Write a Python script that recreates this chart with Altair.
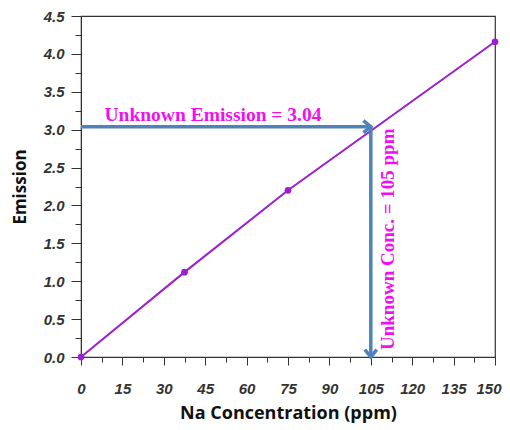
import altair as alt
import pandas as pd

conc = [0, 37.5, 75, 150]
emission = [0, 1.12, 2.20, 4.16]
unknown_emission = 3.04
unknown_conc = 105
x_major_step = 15
y_major_step = 0.5
x_tick_values = [7.5 * i for i in range(21)]
y_tick_values = [0.25 * i for i in range(19)]
label_h = "Unknown Emission = 3.04"
label_v = "Unknown Conc. = 105 ppm"

df = pd.DataFrame({"conc": conc, "emission": emission})

LINE = "#9b1fd0"
ARROW = "#4f81bd"
MAG = "#ee11ee"
AX = "#333333"

xs = alt.Scale(domain=[0, 150], nice=False, zero=False)
ys = alt.Scale(domain=[0, 4.5], nice=False, zero=False)

lab_font = dict(labelFont="Liberation Sans", labelFontSize=15, labelFontWeight="bold",
                labelFontStyle="italic", labelColor=AX)

x_axis = alt.Axis(
    values=x_tick_values, title="Na Concentration (ppm)",
    tickSize={"condition": {"test": f"datum.value % {x_major_step} === 0", "value": 8}, "value": 5},
    labelExpr=f"datum.value % {x_major_step} === 0 ? datum.label : ''",
    labelAlign={"condition": {"test": "datum.value === 150", "value": "right"}, "value": "center"},
    labelOffset={"condition": {"test": "datum.value === 150", "value": 6}, "value": 0},
    tickColor=AX, domainColor=AX, grid=False, labelPadding=16, titleFont="Open Sans",
    titleFontSize=18, titleFontWeight="bold", titleColor="#111111",
    titlePadding=8, format="d", labelFlush=False, labelOverlap=False, **lab_font)
y_axis = alt.Axis(
    values=y_tick_values, title="Emission",
    tickSize={"condition": {"test": f"datum.value % {y_major_step} === 0", "value": 10}, "value": 6},
    labelExpr=f"datum.value % {y_major_step} === 0 ? datum.label : ''",
    tickColor=AX, domainColor=AX, grid=False, labelPadding=7, titleFont="Open Sans",
    titleFontSize=17, titleFontWeight="bold", titleColor="#111111",
    titlePadding=14, format=".1f", labelFlush=False, labelOverlap=False, **lab_font)

X = alt.X("conc:Q", scale=xs, axis=x_axis)
Y = alt.Y("emission:Q", scale=ys, axis=y_axis)

line = alt.Chart(df).mark_line(color=LINE, strokeWidth=2).encode(x=X, y=Y)
pts = alt.Chart(df).mark_circle(color=LINE, size=45, opacity=1).encode(x=X, y=Y)

h_line = alt.Chart(pd.DataFrame({"conc": [0], "conc2": [unknown_conc], "emission": [unknown_emission]})).mark_rule(
    color=ARROW, strokeWidth=3.5).encode(x=X, x2="conc2:Q", y=Y)
v_line = alt.Chart(pd.DataFrame({"conc": [unknown_conc], "emission": [unknown_emission], "emission2": [0]})).mark_rule(
    color=ARROW, strokeWidth=3.5).encode(x=X, y=Y, y2="emission2:Q")

head_r = alt.Chart(pd.DataFrame({"conc": [unknown_conc], "emission": [unknown_emission]})).mark_point(
    shape="M-1,-0.8L0,0L-1,0.8", filled=False, stroke=ARROW, strokeWidth=3.5, size=220,
    opacity=1).encode(x=X, y=Y)
head_d = alt.Chart(pd.DataFrame({"conc": [unknown_conc], "emission": [0]})).mark_point(
    shape="M-0.8,-1L0,0L0.8,-1", filled=False, stroke=ARROW, strokeWidth=3.5, size=220,
    opacity=1).encode(x=X, y=Y)

txt_h = alt.Chart(pd.DataFrame({"conc": [8.5], "emission": [unknown_emission], "t": [label_h]})).mark_text(
    font="Liberation Serif", fontSize=19.5, fontWeight="bold", color=MAG, align="left",
    baseline="alphabetic", dy=-6).encode(x=X, y=Y, text="t:N")
txt_v = alt.Chart(pd.DataFrame({"conc": [unknown_conc], "emission": [0], "t": [label_v]})).mark_text(
    font="Liberation Serif", fontSize=19, fontWeight="bold", color=MAG, align="left",
    baseline="alphabetic", angle=270, dx=7, dy=23).encode(x=X, y=Y, text="t:N")

chart = alt.layer(line, pts, h_line, v_line, head_r, head_d, txt_h, txt_v).properties(
    width=414, height=341,
    autosize=alt.AutoSizeParams(type="none"),
    padding={"left": 73, "top": 8, "right": 7, "bottom": 70},
    background="white",
).configure_view(stroke=AX, strokeWidth=1.2)

chart.save("out.html", embed_options={"renderer": "svg", "actions": False})
